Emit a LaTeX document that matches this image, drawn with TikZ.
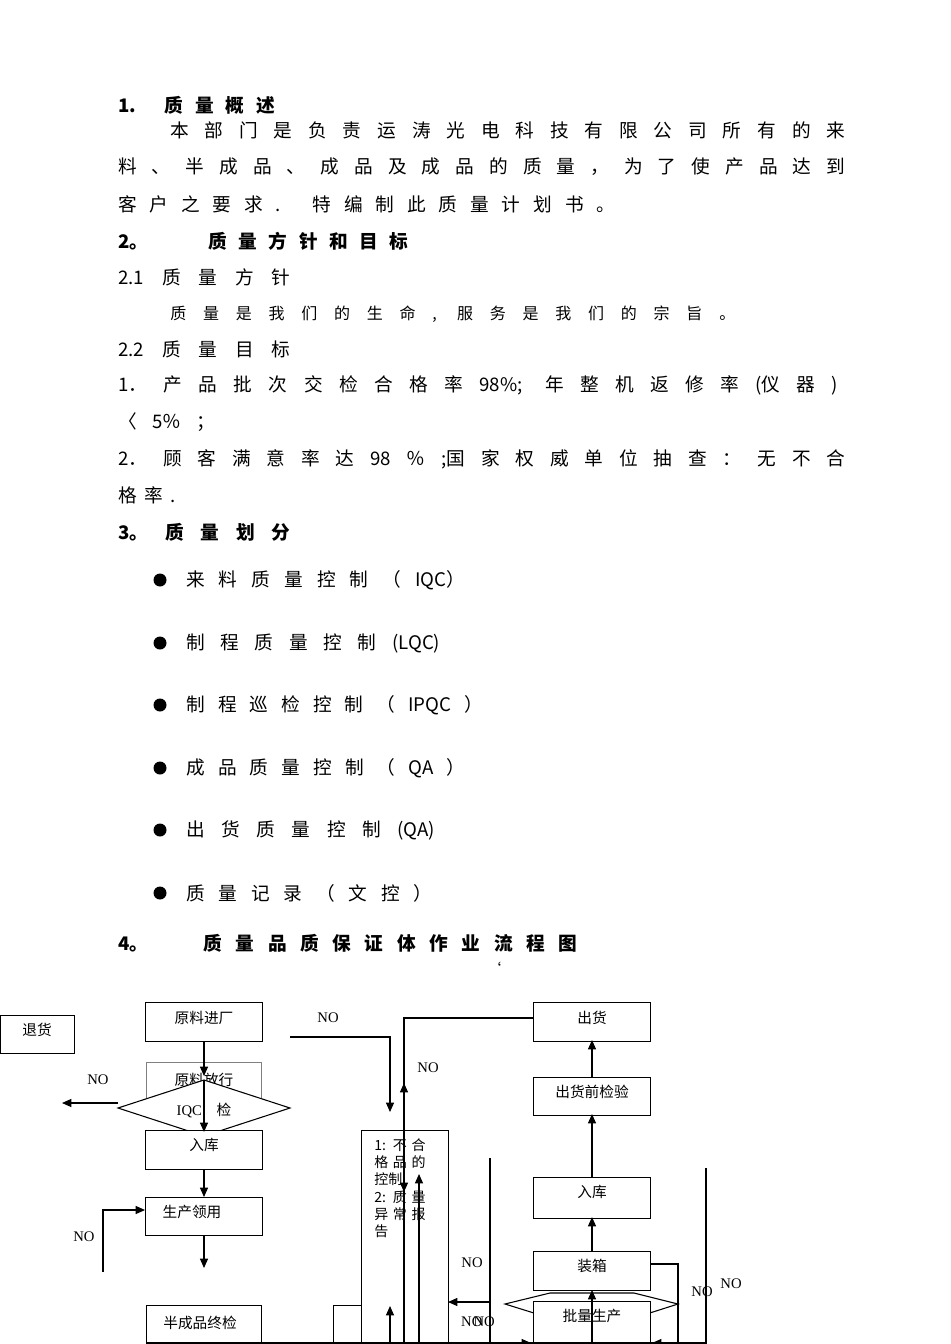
\documentclass[tikz,border=0pt]{standalone}
\usepackage{fontspec}
\setmainfont{Noto Sans CJK SC}
\newfontfamily\lat{Liberation Serif}
\usetikzlibrary{arrows.meta}
\newlength\px \setlength\px{0.75pt}
\newcommand\spl[2]{\makebox[#1\px][s]{#2}}
\tikzset{
 tl/.style={anchor=west,inner sep=0pt,font=\fontsize{14pt}{16pt}\selectfont},
 bx/.style={draw,line width=0.9pt,anchor=north west,inner sep=0pt},
 fl/.style={font=\fontsize{11pt}{13pt}\selectfont,inner sep=0pt},
 no/.style={font=\lat\fontsize{11pt}{13pt}\selectfont,inner sep=0pt},
 ar/.style={-{Triangle[length=7pt,width=6pt]},line width=0.8pt},
 li/.style={line width=0.8pt},
}
\begin{document}
\begin{tikzpicture}[x=0.75pt,y=-0.75pt]
\useasboundingbox (0,0) rectangle (950,1344);
% text
\node[tl,font=\bfseries\fontsize{14pt}{16pt}\selectfont] (t1) at (118,105) {\spl{157}{1. 质 量 概 述}};
\node[tl] (t2) at (170,130) {\spl{675}{本 部 门 是 负 责 运 涛 光 电 科 技 有 限 公 司 所 有 的 来}};
\node[tl] (t3) at (118,167) {\spl{727}{料 、 半 成 品 、 成 品 及 成 品 的 质 量 ， 为 了 使 产 品 达 到}};
\node[tl] (t4) at (118,204) {\spl{497}{客 户 之 要 求 . 特 编 制 此 质 量 计 划 书 。}};
\node[tl,font=\bfseries\fontsize{14pt}{16pt}\selectfont] (t5) at (118,241) {\spl{290}{2。 \hspace{2em} 质 量 方 针 和 目 标}};
\node[tl] (t6) at (118,277) {\spl{172}{2.1 质 量 方 针}};
\node[tl,font=\fontsize{12pt}{14pt}\selectfont] (t7) at (170,314) {\spl{565}{质 量 是 我 们 的 生 命 , 服 务 是 我 们 的 宗 旨 。}};
\node[tl] (t8) at (118,349) {\spl{172}{2.2 质 量 目 标}};
\node[tl] (t9) at (118,385) {\spl{720}{1． 产 品 批 次 交 检 合 格 率 98\%; 年 整 机 返 修 率 (仪 器 )}};
\node[tl] (t10) at (118,422) {\spl{97}{〈 5％ ；}};
\node[tl] (t11) at (118,459) {\spl{727}{2． 顾 客 满 意 率 达 98 ％ ;国 家 权 威 单 位 抽 查 ： 无 不 合}};
\node[tl] (t12) at (118,495) {\spl{57}{格 率 .}};
\node[tl,font=\bfseries\fontsize{14pt}{16pt}\selectfont] (t13) at (118,532) {\spl{172}{3。 质 量 划 分}};
\foreach \y/\w/\t [count=\i] in {580/279/{来 料 质 量 控 制 （ IQC）},643/254/{制 程 质 量 控 制 (LQC)},705/297/{制 程 巡 检 控 制 （ IPQC ）},768/279/{成 品 质 量 控 制 （ QA ）},830/249/{出 货 质 量 控 制 (QA)},893/246/{质 量 记 录 （ 文 控 ）}}{
 \fill (160,\y) circle (6.5);
 \node[tl] (b\i) at (186,\y) {\spl{\w}{\t}};
}
\node[tl,font=\bfseries\fontsize{14pt}{16pt}\selectfont] (t14) at (118,943) {\spl{459}{4。 \hspace{1.5em} 质 量 品 质 保 证 体 作 业 流 程 图}};
\node[fl] (tick) at (494,968) {`};
% flowchart boxes
\node[bx,minimum width=74\px,minimum height=38\px] (th) at (0,1015) {};
\node[fl] at (37,1030) {退货};
\node[bx,minimum width=117\px,minimum height=39\px] (ylj) at (145,1002) {};
\node[fl] at (204,1018) {原料进厂};
\node[draw=gray,line width=0.5pt,anchor=north west,minimum width=115\px,minimum height=37\px] (ylf) at (146,1062) {};
\node[fl] at (204,1080) {原料放行};
\draw[li,fill=white] (118,1108) -- (204,1080) -- (290,1108) -- (204,1136) -- cycle;
\node[fl] (iqc) at (204,1110) {{\lat IQC}\quad 检};
\node[bx,fill=white,minimum width=117\px,minimum height=39\px] (rk) at (145,1130) {};
\node[fl] at (204,1145) {入库};
\node[bx,minimum width=117\px,minimum height=38\px] (scl) at (145,1197) {};
\node[fl] at (192,1212) {生产领用};
\node[bx,minimum width=115\px,minimum height=40\px] (bcp) at (146,1305) {};
\node[fl] at (200,1323) {半成品终检};
\node[bx,minimum width=30\px,minimum height=40\px] (zj) at (333,1305) {};
\node[bx,fill=white,minimum width=87\px,minimum height=214\px] (bh) at (361,1130) {};
\node[fl,anchor=north west,align=left,text width=64\px,font=\fontsize{10.5pt}{13pt}\selectfont] at (374,1138) {1: 不 合 格 品 的 控制\\2: 质 量 异 常 报 告};
\node[bx,minimum width=117\px,minimum height=39\px] (ch) at (533,1002) {};
\node[fl] at (592,1018) {出货};
\node[bx,minimum width=117\px,minimum height=38\px] (cqj) at (533,1077) {};
\node[fl] at (592,1092) {出货前检验};
\node[bx,minimum width=117\px,minimum height=41\px] (rk2) at (533,1177) {};
\node[fl] at (592,1192) {入库};
\node[bx,minimum width=117\px,minimum height=39\px] (zx) at (533,1251) {};
\node[fl] at (592,1266) {装箱};
\draw[li,fill=white] (505,1304) -- (550,1293) -- (634,1293) -- (678,1304) -- (634,1318) -- (550,1318) -- cycle;
\node[bx,fill=white,minimum width=117\px,minimum height=43\px] (pl) at (533,1301) {};
\node[fl] at (592,1316) {批量生产};
% connectors
\draw[ar] (ylj.south -| 204,0) -- (204,1076);
\draw[ar] (204,1080) -- (204,1132);
\draw[ar] (204,1169) -- (204,1197);
\draw[ar] (204,1235) -- (204,1268);
\draw[ar] (118,1103) -- (62,1103);
\node[no] at (98,1080) {NO};
\draw[ar] (103,1272) -- (103,1210) -- (145,1210);
\node[no] at (84,1237) {NO};
\draw[ar] (290,1037) -- (390,1037) -- (390,1112);
\node[no] at (328,1018) {NO};
\draw[li] (ch.west |- 0,1018) -- (404,1018) -- (404,1344);
\draw[ar] (404,1150) -- (404,1083);
\draw[ar] (404,1150) -- (404,1192);
\node[no] at (428,1068) {NO};
\draw[ar] (419,1344) -- (419,1174);
\draw[ar] (390,1344) -- (390,1306);
\draw[li] (490,1158) -- (490,1344);
\draw[ar] (490,1302) -- (448,1302);
\node[no] at (472,1263) {NO};
\node[no] at (478,1322) {NO\hspace{-0.6em}NO};
\draw[ar] (592,1344) -- (592,1290);
\draw[ar] (592,1251) -- (592,1217);
\draw[ar] (592,1177) -- (592,1114);
\draw[ar] (592,1077) -- (592,1040);
\draw[li] (650,1264) -- (678,1264) -- (678,1344);
\draw[li] (706,1168) -- (706,1344);
\node[no] at (702,1292) {NO};
\node[no] at (731,1284) {NO};
\draw[li] (146,1343) -- (706,1343);
\draw[ar] (520,1343) -- (531,1343);
\draw[ar] (665,1343) -- (652,1343);
\end{tikzpicture}
\end{document}
